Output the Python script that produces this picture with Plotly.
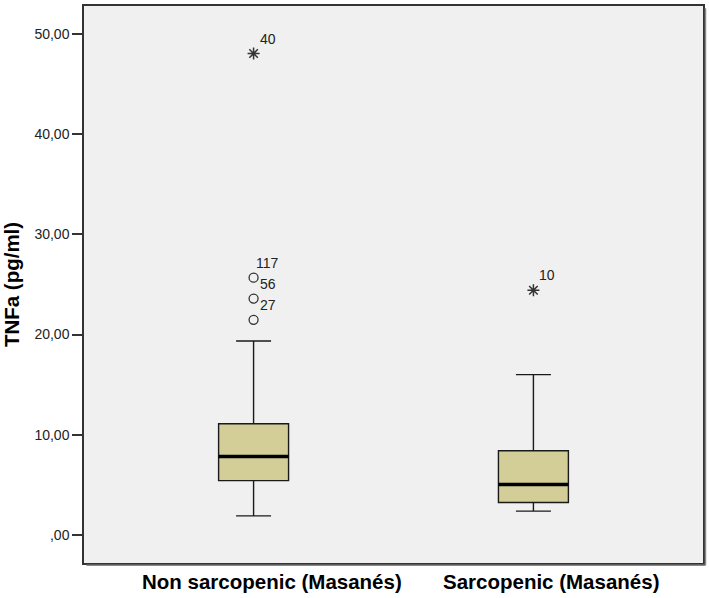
import plotly.graph_objects as go

# ── Data ────────────────────────────────────────────────────────────────────
groups = ["Non sarcopenic (Masanés)", "Sarcopenic (Masanés)"]
group_pos = [0, 1]

lower_whisker = [1.89, 2.36]
q1 = [5.41, 3.22]
median = [7.83, 5.02]
q3 = [11.09, 8.40]
upper_whisker = [19.35, 16.00]

# mild outliers (circles) and extreme outliers (stars), with case labels
mild_group = [0, 0, 0]
mild_values = [25.68, 23.59, 21.47]
mild_labels = ["117", "56", "27"]

extreme_group = [0, 1]
extreme_values = [48.07, 24.42]
extreme_labels = ["40", "10"]

y_ticks = [0, 10, 20, 30, 40, 50]
y_ticktext = [",00", "10,00", "20,00", "30,00", "40,00", "50,00"]

# ── Styling ────────────────────────────────────────────────────────────────
BOX_FILL = "rgb(211,206,151)"
INK = "#1a1a1a"
BOX_WIDTH = 0.25
FONT = "Liberation Sans, Arial, sans-serif"

fig = go.Figure()

for i, pos in enumerate(group_pos):
    fig.add_trace(
        go.Box(
            x=[pos],
            q1=[q1[i]],
            median=[median[i]],
            q3=[q3[i]],
            lowerfence=[lower_whisker[i]],
            upperfence=[upper_whisker[i]],
            boxpoints=False,
            width=BOX_WIDTH,
            whiskerwidth=0.5,
            fillcolor=BOX_FILL,
            line=dict(color=INK, width=1.4),
            showlegend=False,
            hoverinfo="skip",
        )
    )
    # thick median bar
    fig.add_trace(
        go.Scatter(
            x=[pos - BOX_WIDTH / 2, pos + BOX_WIDTH / 2],
            y=[median[i], median[i]],
            mode="lines",
            line=dict(color="black", width=3.5),
            showlegend=False,
            hoverinfo="skip",
        )
    )

fig.add_trace(
    go.Scatter(
        x=[group_pos[g] for g in mild_group],
        y=mild_values,
        mode="markers",
        marker=dict(symbol="circle-open", size=9, color="#333333",
                    line=dict(width=1.3)),
        showlegend=False,
    )
)
fig.add_trace(
    go.Scatter(
        x=[group_pos[g] for g in extreme_group],
        y=extreme_values,
        mode="markers",
        marker=dict(symbol="asterisk-open", size=10, color="#333333",
                    line=dict(width=1.5)),
        showlegend=False,
    )
)

# case number labels, up and right of each outlier
for g, v, t in list(zip(mild_group, mild_values, mild_labels)) + \
        list(zip(extreme_group, extreme_values, extreme_labels)):
    fig.add_annotation(
        x=group_pos[g], y=v, text=t, showarrow=False,
        xshift=14, yshift=15,
        font=dict(family=FONT, size=14, color="#222222"),
    )

# category labels under the frame (sit a little right of the boxes)
for i, pos in enumerate(group_pos):
    fig.add_annotation(
        x=pos, y=0, xref="x", yref="paper", yanchor="top", yshift=-5,
        xshift=18,
        text=f"<b>{groups[i]}</b>", showarrow=False,
        font=dict(family=FONT, size=20.5, color="black"),
    )

# soft shadow line on the right and bottom of the frame
fig.add_shape(type="line", xref="paper", yref="paper",
              x0=1.004, x1=1.004, y0=-0.004, y1=0.996,
              line=dict(color="#888888", width=1.5))
fig.add_shape(type="line", xref="paper", yref="paper",
              x0=0.004, x1=1.004, y0=-0.004, y1=-0.004,
              line=dict(color="#888888", width=1.5))

fig.update_layout(
    width=709,
    height=598,
    paper_bgcolor="white",
    plot_bgcolor="#F0F0F0",
    margin=dict(l=83, r=6, t=4, b=35),
    font=dict(family=FONT, size=14, color="#222222"),
    showlegend=False,
    xaxis=dict(
        range=[-0.606, 1.606],
        showticklabels=False,
        ticks="",
        showgrid=False,
        zeroline=False,
        showline=True,
        mirror=True,
        linecolor="#333333",
        linewidth=1.5,
    ),
    yaxis=dict(
        range=[-2.82, 52.82],
        tickvals=y_ticks,
        ticktext=y_ticktext,
        ticks="outside",
        ticklen=10,
        tickwidth=1.5,
        tickcolor="#333333",
        showgrid=False,
        zeroline=False,
        showline=True,
        mirror=True,
        linecolor="#333333",
        linewidth=1.5,
        title=dict(text="<b>TNFa (pg/ml)</b>", standoff=16,
                   font=dict(family=FONT, size=20.5, color="black")),
        tickfont=dict(family=FONT, size=14, color="#222222"),
    ),
)

# drop the browser's default body margin so the figure sits at the page corner
fig.write_html("out.html",
               config={"displayModeBar": False},
               post_script="document.body.style.margin='0';"
                           "document.body.style.overflow='hidden';")
